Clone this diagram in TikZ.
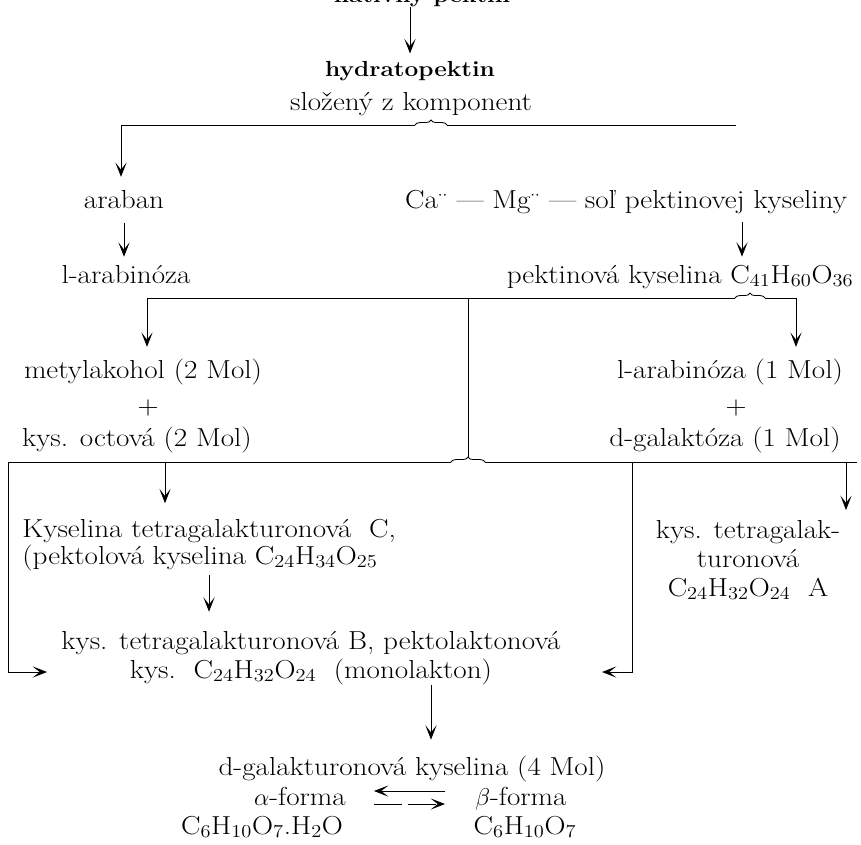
\documentclass[tikz,border=0pt]{standalone}
\usepackage{fontspec}
\setmainfont{Latin Modern Roman}[FakeStretch=1.12]
\usetikzlibrary{arrows.meta,decorations.pathreplacing}

\newcommand{\sbs}[1]{\textsubscript{#1}}

\tikzset{
  txt/.style={inner sep=0pt, anchor=base, font=\fontsize{18.5}{19}\selectfont},
  hlav/.style={inner sep=0pt, anchor=base, font=\fontsize{15.5}{18}\selectfont\bfseries},
  arr/.style={-{Stealth[length=3.6mm,width=2.8mm,inset=1.8mm]}},
  brc/.style={decorate, decoration={brace, amplitude=3.5pt}},
}

\begin{document}
\begin{tikzpicture}[x=0.025cm, y=-0.025cm, line width=0.6pt]
\useasboundingbox (0,0) rectangle (861,844);

\node[hlav] (natpek) at (422,2) {natívny pektin};
\node[hlav] (hydr) at (410,76) {hydratopektin};
\node[txt] (slozeny) at (411,110) {složený z komponent};
\draw[arr, shorten >=5pt] (natpek.south -| hydr.north) -- (hydr.north);

\coordinate (l1w) at (121,125);
\coordinate (b1a) at (415,125);
\coordinate (b1b) at (447,125);
\coordinate (l1e) at (736,125);
\draw (l1w) -- (b1a);
\draw[brc] (b1a) -- (b1b);
\draw (b1b) -- (l1e);

\node[txt] (araban) at (124,208) {araban};
\node[txt] (camg) at (626,208) {Ca$^{\cdot\cdot}$ --- Mg$^{\cdot\cdot}$ --- soľ pektinovej kyseliny};
\node[txt] (larab) at (126,283) {l-arabinóza};
\node[txt] (pektkys) at (680,283) {pektinová kyselina C\sbs{41}H\sbs{60}O\sbs{36}};
\coordinate (pkx) at (742,0);
\draw[arr, shorten >=9pt] (l1w) -- (l1w |- araban.north);
\draw[arr, shorten <=10pt, shorten >=5.5pt] (araban.south) -- (araban.south |- larab.north);
\draw[arr, shorten <=6pt, shorten >=5.5pt] (camg.south -| pkx) -- (pektkys.north -| pkx);

\coordinate (l2w) at (147,298);
\coordinate (l2m) at (468,298);
\coordinate (b2a) at (735,298);
\coordinate (b2b) at (765,298);
\coordinate (l2e) at (796,298);
\draw (l2w) -- (b2a);
\draw[brc] (b2a) -- (b2b);
\draw (b2b) -- (l2e);

\node[txt] (metyl) at (143,378) {metylakohol (2 Mol)};
\node[txt, anchor=center] (plusl) at (148,408) {+};
\node[txt] (octova) at (137,446) {kys. octová (2 Mol)};
\node[txt] (larabmol) at (730,378) {l-arabinóza (1 Mol)};
\node[txt, anchor=center] (plusr) at (736,408) {+};
\node[txt] (galakt) at (725,446) {d-galaktóza (1 Mol)};
\draw[arr, shorten >=8pt] (l2w) -- (l2w |- metyl.north);
\draw[arr, shorten >=8pt] (l2e) -- (l2e |- larabmol.north);

\coordinate (l3w) at (8,462);
\coordinate (l3c) at (165,462);
\coordinate (b3a) at (451,462);
\coordinate (b3t) at (468,457);
\coordinate (b3b) at (485,462);
\coordinate (l3d) at (632,462);
\coordinate (l3f) at (846,462);
\coordinate (l3e) at (857,462);
\draw (l3w) -- (b3a);
\draw[brc] (b3a) -- (b3b);
\draw (b3b) -- (l3e);
\draw (l2m) -- (b3t);

\node[txt, anchor=base west, align=left] (kysC) at (22,564) {Kyselina tetragalakturonová~~C,\\(pektolová kyselina C\sbs{24}H\sbs{34}O\sbs{25}};
\node[txt, align=center] (kysA) at (748,596) {kys. tetragalak-\\[1.5pt]turonová\\[1.5pt]C\sbs{24}H\sbs{32}O\sbs{24}~~A};
\node[txt, align=center] (kysB) at (311,678) {kys. tetragalakturonová B, pektolaktonová\\[1pt]kys.~~C\sbs{24}H\sbs{32}O\sbs{24}~~(monolakton)};
\coordinate (kysBl) at (47,672);
\coordinate (kysBr) at (602,672);
\coordinate (kcx) at (209,0);
\coordinate (kbx) at (431,0);
\draw[arr, shorten >=11pt] (l3c) -- (l3c |- kysC.north);
\draw[arr, shorten >=7pt] (l3f) -- (l3f |- kysA.north);
\draw[arr] (l3w) |- (kysBl);
\draw[arr] (l3d) |- (kysBr);
\draw[arr, shorten <=3pt, shorten >=14pt] (kysC.south -| kcx) -- (kysB.north -| kcx);

\node[txt] (dgal) at (412,775) {d-galakturonová kyselina (4 Mol)};
\node[txt] (alfa) at (300,805) {$\alpha$-forma};
\node[txt] (beta) at (521,805) {$\beta$-forma};
\node[txt] (alfavz) at (262,834) {C\sbs{6}H\sbs{10}O\sbs{7}.H\sbs{2}O};
\node[txt] (betavz) at (525,834) {C\sbs{6}H\sbs{10}O\sbs{7}};
\draw[arr, shorten >=11pt] (kysB.south -| kbx) -- (dgal.north -| kbx);

\coordinate (eq1) at (445,791);
\coordinate (eq2) at (374,791);
\coordinate (eq3) at (374,804);
\coordinate (eq4) at (445,804);
\draw[arr] (eq1) -- (eq2);
\draw[arr, dash pattern=on 20pt off 4pt] (eq3) -- (eq4);
\end{tikzpicture}
\end{document}
